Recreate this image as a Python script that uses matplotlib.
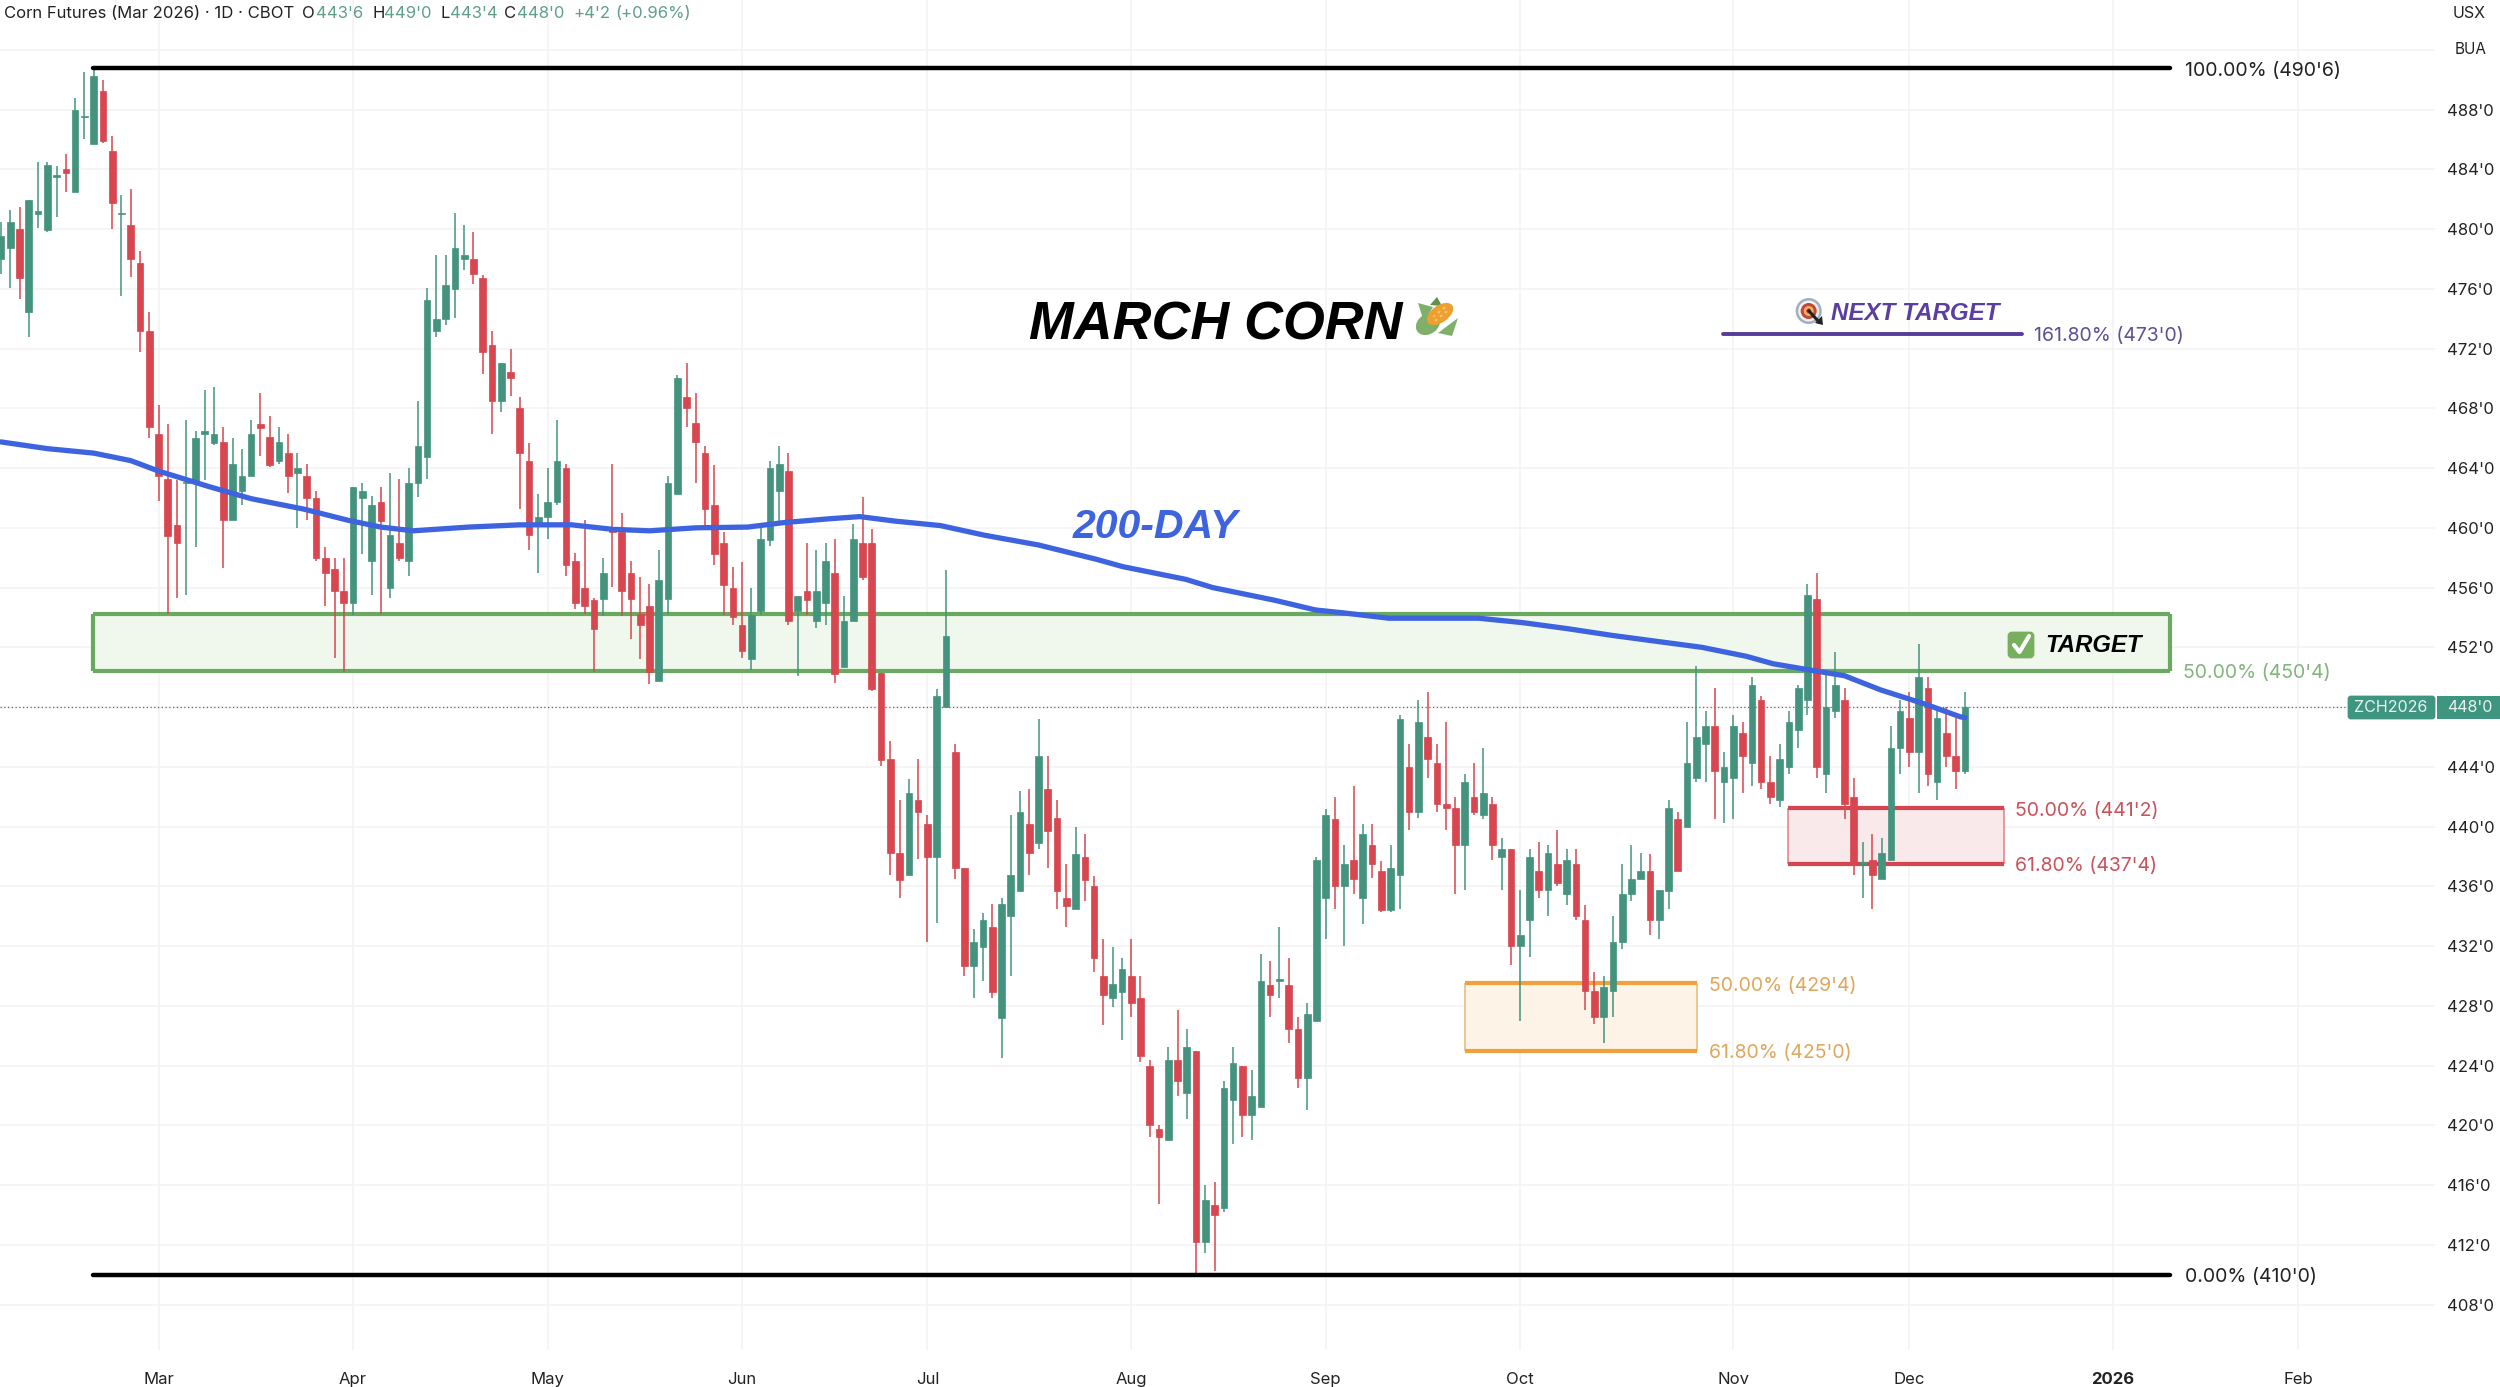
import matplotlib
matplotlib.use("Agg")
import matplotlib.pyplot as plt
from matplotlib.patches import Ellipse, FancyBboxPatch, Polygon, Rectangle

plt.rcParams['font.family'] = ['Inter', 'DejaVu Sans']

# daily candles (price in cents, 0.25 = 2/8)
opens = [
    478.0, 478.75, 480.0, 474.45, 481.0, 479.95, 483.5, 484.0, 482.5, 487.5,
    485.7, 489.25, 485.2, 481.0, 480.25, 477.75, 473.2, 466.25, 463.3, 460.2,
    463.0, 463.05, 466.25, 465.7, 465.75, 460.5, 462.45, 463.5, 466.95, 466.05,
    464.5, 465.0, 463.7, 463.5, 462.0, 458.0, 457.25, 455.75, 455.0, 462.0,
    457.75, 461.75, 456.0, 459.0, 457.75, 463.0, 464.75, 473.2, 474.0, 476.0,
    478.0, 478.0, 476.75, 472.25, 468.5, 470.45, 468.0, 464.5, 460.3, 460.75,
    461.7, 464.0, 457.75, 456.0, 455.2, 455.25, 460.0, 459.75, 457.0, 454.25,
    454.75, 449.75, 455.25, 462.25, 468.75, 467.0, 465.0, 461.5, 459.0, 456.0,
    453.5, 451.2, 454.45, 459.2, 462.45, 463.8, 454.45, 455.75, 453.75, 455.0,
    457.0, 450.7, 453.75, 459.0, 459.0, 450.25, 444.5, 438.25, 436.75, 441.75,
    440.2, 437.95, 448.0, 445.0, 437.2, 430.7, 431.95, 433.25, 427.2, 434.0,
    435.7, 440.2, 438.9, 442.5, 440.55, 435.2, 434.5, 438.0, 436.0, 430.0,
    428.5, 428.9, 430.0, 428.5, 424.0, 419.75, 419.0, 424.4, 422.2, 425.0,
    412.2, 414.7, 414.45, 421.7, 424.0, 420.7, 421.2, 429.4, 429.7, 429.4,
    426.45, 423.2, 427.0, 435.25, 440.5, 436.0, 437.75, 435.25, 438.75, 437.0,
    434.45, 436.75, 444.0, 441.0, 446.0, 444.25, 441.5, 441.25, 438.75, 442.0,
    440.75, 441.5, 438.0, 438.5, 432.0, 433.75, 437.0, 435.75, 437.5, 435.5,
    437.5, 433.75, 429.0, 427.25, 429.0, 432.25, 435.5, 436.5, 437.0, 433.75,
    435.7, 440.5, 440.0, 443.25, 445.5, 446.75, 443.0, 443.25, 446.25, 444.25,
    448.5, 443.0, 441.75, 444.0, 446.5, 448.5, 455.25, 443.5, 447.75, 448.5,
    442.0, 437.5, 437.75, 436.5, 437.75, 445.25, 447.25, 445.0, 449.25, 443.0,
    446.25, 444.75, 443.75,
]
closes = [
    479.5, 480.5, 476.75, 481.95, 481.2, 484.3, 483.6, 483.75, 488.0, 487.55,
    490.25, 485.9, 481.75, 481.05, 478.0, 473.2, 466.75, 463.5, 459.45, 459.0,
    463.05, 466.0, 466.5, 466.25, 460.5, 464.25, 463.5, 466.25, 466.7, 464.2,
    465.75, 463.5, 464.0, 462.0, 458.0, 457.0, 455.75, 455.0, 462.75, 462.45,
    461.5, 460.45, 459.55, 458.0, 463.0, 465.5, 475.25, 474.0, 476.25, 478.75,
    478.25, 477.0, 471.75, 468.5, 471.0, 470.0, 465.0, 459.55, 460.75, 461.7,
    464.5, 457.5, 455.0, 454.75, 453.25, 457.0, 459.75, 455.75, 455.25, 453.5,
    450.35, 456.5, 463.0, 470.0, 468.0, 465.75, 461.25, 458.25, 456.2, 454.0,
    451.75, 454.15, 459.25, 464.0, 464.25, 453.75, 455.45, 455.2, 455.75, 457.8,
    450.2, 453.75, 459.25, 456.7, 449.2, 444.45, 438.25, 436.4, 442.25, 440.95,
    437.95, 448.75, 452.75, 437.2, 430.7, 432.25, 433.75, 428.9, 434.8, 436.75,
    440.95, 438.25, 444.7, 439.7, 435.7, 434.7, 438.2, 436.4, 431.2, 428.7,
    429.45, 430.5, 428.2, 424.65, 420.0, 419.25, 424.4, 422.95, 425.25, 412.2,
    415.0, 414.0, 422.5, 424.2, 420.7, 422.0, 429.7, 428.75, 429.8, 426.45,
    423.2, 427.45, 437.75, 440.75, 436.0, 437.5, 436.5, 439.5, 437.5, 434.4,
    437.25, 447.2, 441.0, 447.0, 444.5, 441.5, 441.25, 438.75, 443.0, 441.0,
    442.25, 438.75, 438.5, 432.0, 432.75, 438.0, 435.75, 438.25, 436.25, 437.75,
    434.0, 429.0, 427.25, 429.25, 432.25, 435.5, 436.5, 437.0, 433.75, 435.75,
    441.25, 437.0, 444.25, 446.0, 446.75, 443.75, 444.0, 446.75, 444.75, 449.5,
    443.0, 442.0, 444.5, 447.0, 449.25, 455.5, 444.0, 448.0, 449.5, 441.5,
    437.5, 437.6, 436.75, 438.25, 445.25, 447.75, 445.0, 450.0, 443.5, 447.25,
    444.75, 443.75, 448.0,
]
highs = [
    480.5, 481.3, 481.45, 481.95, 484.5, 484.5, 484.2, 485.0, 488.75, 490.5,
    490.75, 490.0, 486.2, 482.25, 482.7, 478.5, 474.45, 468.2, 466.95, 463.2,
    467.25, 466.5, 469.25, 469.45, 466.75, 466.0, 465.3, 467.25, 469.05, 467.5,
    466.75, 466.25, 465.0, 464.25, 462.45, 458.7, 458.0, 458.0, 462.75, 463.0,
    462.15, 462.75, 463.7, 463.25, 464.0, 468.5, 476.05, 478.25, 478.25, 481.05,
    480.25, 479.8, 476.95, 473.2, 471.0, 472.0, 468.75, 465.7, 462.25, 464.0,
    467.25, 464.25, 458.3, 460.5, 455.3, 458.0, 464.25, 461.0, 457.75, 456.7,
    456.25, 458.5, 463.5, 470.25, 471.0, 469.0, 465.5, 464.2, 459.75, 457.4,
    457.7, 455.95, 460.25, 464.5, 465.5, 465.0, 455.45, 459.0, 458.5, 459.0,
    459.25, 455.45, 460.25, 462.05, 459.95, 450.25, 445.75, 441.75, 443.2, 444.5,
    440.75, 449.2, 457.2, 445.5, 437.2, 433.15, 434.25, 434.8, 435.2, 440.75,
    442.4, 442.5, 447.2, 444.7, 441.75, 437.5, 440.0, 439.5, 436.7, 432.45,
    431.95, 431.2, 432.45, 430.0, 424.4, 420.0, 425.25, 427.7, 426.45, 425.0,
    416.0, 416.2, 423.0, 425.25, 424.0, 423.7, 431.45, 431.0, 433.25, 431.2,
    427.25, 428.2, 438.0, 441.2, 442.0, 438.75, 442.75, 440.2, 440.2, 437.7,
    438.75, 447.5, 445.5, 448.5, 449.0, 445.5, 447.0, 442.0, 443.5, 444.25,
    445.25, 442.0, 439.25, 438.5, 435.75, 438.5, 439.0, 438.75, 439.75, 438.5,
    438.5, 434.75, 430.25, 430.0, 434.0, 437.5, 438.75, 438.25, 438.2, 435.75,
    441.75, 441.0, 447.0, 450.75, 447.75, 449.25, 445.0, 447.5, 447.0, 450.0,
    448.75, 444.75, 445.5, 447.75, 449.5, 456.25, 457.0, 450.2, 451.7, 449.25,
    443.25, 439.0, 439.5, 439.25, 446.75, 448.5, 449.0, 452.25, 450.0, 448.0,
    448.0, 447.25, 449.0,
]
lows = [
    477.0, 476.05, 475.3, 472.8, 480.05, 479.8, 480.8, 482.5, 482.5, 486.0,
    485.7, 485.75, 480.0, 475.55, 476.8, 471.8, 466.0, 461.8, 454.25, 455.3,
    455.5, 458.7, 463.2, 465.55, 457.3, 460.5, 461.55, 463.5, 464.8, 464.05,
    464.3, 462.3, 460.0, 460.5, 457.8, 454.8, 451.3, 450.35, 454.15, 458.25,
    455.5, 454.25, 455.3, 457.75, 456.8, 462.05, 463.3, 472.75, 473.6, 474.05,
    477.25, 476.3, 470.3, 466.3, 467.75, 468.8, 461.25, 458.5, 457.0, 459.25,
    461.55, 456.8, 454.55, 454.25, 450.35, 454.1, 456.05, 454.1, 452.55, 451.25,
    449.55, 449.75, 454.25, 462.25, 466.75, 463.0, 459.85, 457.5, 454.15, 453.5,
    451.3, 450.5, 454.15, 458.8, 460.35, 453.5, 450.05, 454.15, 453.3, 453.5,
    449.6, 450.7, 453.75, 456.5, 449.05, 444.05, 436.75, 435.25, 436.75, 437.8,
    432.25, 433.55, 448.0, 436.5, 430.0, 428.5, 429.7, 428.5, 424.5, 430.0,
    435.7, 436.75, 438.5, 437.2, 434.5, 433.25, 434.5, 435.05, 430.25, 426.75,
    427.95, 425.75, 427.25, 424.25, 419.25, 414.75, 419.0, 422.0, 420.45, 410.0,
    411.45, 410.25, 414.2, 418.75, 419.25, 419.0, 421.2, 427.25, 428.5, 425.5,
    422.5, 421.0, 427.0, 432.5, 434.5, 432.0, 435.5, 433.5, 436.55, 434.3,
    434.3, 434.5, 439.75, 440.55, 443.25, 441.0, 439.75, 435.5, 435.75, 440.75,
    440.5, 437.75, 435.75, 430.75, 427.0, 431.3, 435.25, 434.0, 436.0, 434.75,
    433.75, 427.75, 426.8, 425.5, 427.25, 431.8, 435.0, 436.5, 432.75, 432.5,
    434.5, 437.0, 440.0, 443.0, 443.0, 440.5, 440.25, 440.5, 442.25, 442.75,
    442.5, 441.5, 441.3, 443.5, 445.25, 447.5, 443.25, 442.25, 447.25, 440.5,
    436.75, 435.25, 434.5, 436.5, 437.75, 443.5, 444.0, 442.25, 442.75, 441.75,
    444.0, 442.5, 443.5,
]

# 200-day average, (bar number, price)
ma_bars = [0, 5, 10, 14, 17, 22.5, 27, 32.7, 37.5, 41, 44.5, 50.5, 56, 61.6, 66, 70, 75, 80.6,
           84.5, 89.3, 92.7, 96.5, 101.4, 106.2, 112, 118.2, 121.1, 127.9, 130.8, 137.5, 141.9,
           145, 149.8, 159.5, 164.3, 169.1, 173.9, 183.6, 188.4, 191.3, 195.1, 199, 202.9,
           207.7, 211.5, 212]
ma_vals = [465.75, 465.3, 465.0, 464.5, 463.8, 462.75, 461.95, 461.25, 460.5, 460.05, 459.8,
           460.05, 460.2, 460.2, 459.9, 459.8, 460.0, 460.05, 460.35, 460.6, 460.75, 460.45,
           460.15, 459.5, 458.85, 457.9, 457.4, 456.55, 456.0, 455.15, 454.5, 454.3, 453.95,
           453.95, 453.65, 453.25, 452.8, 452.0, 451.4, 450.9, 450.5, 450.1, 449.15, 448.2,
           447.35, 447.3]

month_bars = [17, 38, 59, 80, 100, 122, 143, 164, 187, 206, 228, 248]
month_labels = ['Mar', 'Apr', 'May', 'Jun', 'Jul', 'Aug', 'Sep', 'Oct', 'Nov', 'Dec', '2026', 'Feb']
price_ticks = list(range(408, 493, 4))

last_price = 448.0
fib_high = 490.75
fib_low = 410.0
green_zone = (450.4, 454.2)
red_zone = (437.5, 441.25)
orange_zone = (425.0, 429.5)
next_target = 473.0

GREEN = '#44937e'
RED = '#d8464f'
BLUE = '#3d63de'

W, H = 2500, 1387
fig = plt.figure(figsize=(W / 100, H / 100), dpi=100, facecolor='white')
ax = fig.add_axes([0, (H - 1350) / H, 2435 / W, 1350 / H])
ax.set_xlim(-0.11, 262.74)
ax.set_ylim(448 - (1350 - 707.1) / 14.94, 448 + 707.1 / 14.94)
for s in ax.spines.values():
    s.set_visible(False)

ax.set_xticks(month_bars)
ax.set_xticklabels(month_labels, fontsize=12, color='#222222')
ax.get_xticklabels()[10].set_fontweight('bold')
ax.yaxis.tick_right()
ax.set_yticks(price_ticks)
ax.set_yticklabels([f"{p}'0" if p != 492 else '' for p in price_ticks], fontsize=12, color='#222222')
ax.tick_params(axis='both', length=0)
ax.tick_params(axis='x', pad=16)
ax.tick_params(axis='y', pad=9)
ax.grid(True, color='#f2f3f4', lw=1.1, zorder=0)
ax.set_axisbelow(True)

ax.axhline(last_price, color='#666666', lw=0.9, ls=(0, (1, 2)), zorder=1)


def zone(x0, x1, levels, edge, fill, side_lw, side_col):
    ax.add_patch(Rectangle((x0, levels[0]), x1 - x0, levels[1] - levels[0], fc=fill, ec='none', zorder=1))
    ax.vlines([x0, x1], levels[0], levels[1], color=side_col, lw=side_lw, zorder=1.2)
    ax.hlines(levels, x0, x1, color=edge, lw=3, zorder=1.3)


zone(9.9, 234.1, green_zone, '#6aa960', '#f0f7ed', 3, '#6aa960')
zone(192.9, 216.2, red_zone, '#d6444f', '#f9e9ea', 1.2, '#e08a90')
zone(158, 183.1, orange_zone, '#f0a03c', '#fdf4e7', 1.2, '#eebb7c')

bars = list(range(len(opens)))
colors = [GREEN if c >= o else RED for o, c in zip(opens, closes)]
ax.vlines(bars, lows, highs, color=colors, lw=1.1, zorder=2)
ax.bar(bars, [abs(c - o) for o, c in zip(opens, closes)], bottom=[min(o, c) for o, c in zip(opens, closes)],
       width=0.72, color=colors, edgecolor=colors, linewidth=0.5, zorder=2.1)

ax.plot(ma_bars, ma_vals, color=BLUE, lw=3.8, zorder=3, solid_capstyle='round', solid_joinstyle='round')

for y in (fib_high, fib_low):
    ax.hlines(y, 9.9, 234.1, color='black', lw=3.2, zorder=3.5, capstyle='round')
ax.hlines(next_target, 185.9, 218.2, color='#553c9a', lw=2.8, zorder=3.5, capstyle='round')

# fib level captions, nudged down a little to sit like the reference
dy = 0.14
ax.text(235.7, fib_high - dy, "100.00% (490'6)", fontsize=14, color='#222222', va='center')
ax.text(235.7, fib_low - dy, "0.00% (410'0)", fontsize=14, color='#222222', va='center')
ax.text(219.4, next_target - dy, "161.80% (473'0)", fontsize=14, color='#5b5197', va='center')
ax.text(235.5, 450.45 - dy, "50.00% (450'4)", fontsize=14, color='#82b57c', va='center')
ax.text(217.4, 441.2 - dy, "50.00% (441'2)", fontsize=14, color='#c9525c', va='center')
ax.text(217.4, 437.5 - dy, "61.80% (437'4)", fontsize=14, color='#c9525c', va='center')
ax.text(184.4, 429.5 - dy, "50.00% (429'4)", fontsize=14, color='#dfa75c', va='center')
ax.text(184.4, 425.0 - dy, "61.80% (425'0)", fontsize=14, color='#dfa75c', va='center')

# overlay in pixels for headline texts and small icons
pix = fig.add_axes([0, 0, 1, 1], facecolor='none', zorder=5)
pix.set_xlim(0, W)
pix.set_ylim(H, 0)
pix.axis('off')

head = dict(family='Liberation Sans', weight='bold', style='italic', va='center', ha='left')
pix.text(1029, 326, 'MARCH CORN', fontsize=38.7, color='black', **head)
pix.text(1073, 527, '200-DAY', fontsize=29.5, color=BLUE, **head)
pix.text(1831, 314, 'NEXT TARGET', fontsize=17.4, color='#5a3fa0', **head)
pix.text(2045, 645, 'TARGET', fontsize=17.2, color='black', **head)

# header line, pieces placed one after the other
hdr = [(4, 'Corn Futures (Mar 2026) · 1D · CBOT', '#222222'), (302, 'O', '#222222'), (316, "443'6", '#5e9e8a'),
       (372, 'H', '#222222'), (384, "449'0", '#5e9e8a'), (440, 'L', '#222222'), (450, "443'4", '#5e9e8a'),
       (504, 'C', '#222222'), (517, "448'0", '#5e9e8a'), (573, "+4'2", '#5e9e8a'), (615, '(+0.96%)', '#5e9e8a')]
for x, t, c in hdr:
    pix.text(x, 13, t, fontsize=12, color=c, va='center')

pix.text(2486, 14, 'USX', fontsize=11.5, color='#222222', ha='right', va='center')
pix.text(2486, 49, 'BUA', fontsize=11, color='#222222', ha='right', va='center')

# last price tag
pix.add_patch(FancyBboxPatch((2349, 697), 85, 21, boxstyle='round,pad=0,rounding_size=2', fc='#3f9680', ec='#3f9680', lw=2))
pix.add_patch(Rectangle((2437, 695.5), 63, 23.5, fc='#3f9680', ec='none'))
pix.text(2391, 707.5, 'ZCH2026', fontsize=11.5, color='#e8f3f0', ha='center', va='center')
pix.text(2470, 707.5, "448'0", fontsize=11.5, color='#e8f3f0', ha='center', va='center')

# check box
pix.add_patch(FancyBboxPatch((2009, 633), 24, 24, boxstyle='round,pad=0,rounding_size=3', fc='#76b05f', ec='#76b05f', lw=2))
pix.plot([2014, 2019.5, 2029], [645, 652, 636], color='white', lw=3, solid_capstyle='round')

# target icon
for r, c in [(13, '#9fb0c0'), (10.5, '#f4f1ec'), (8, '#c4473c'), (5, '#f0b060'), (2.5, '#c4473c')]:
    pix.add_patch(Ellipse((1808.7, 311), 2 * r, 2 * r, fc=c, ec='none'))
pix.plot([1809, 1819], [311, 322], color='#222222', lw=2.2)
pix.add_patch(Polygon([[1815, 323], [1822, 316], [1823, 325]], fc='#222222', ec='none'))

# corn icon
pix.add_patch(Ellipse((1428, 324), 26, 20, angle=-35, fc='#7fb069', ec='none'))
pix.add_patch(Polygon([[1418, 303], [1433, 307], [1424, 322]], fc='#7fb069', ec='none'))
pix.add_patch(Polygon([[1430, 305], [1437, 297], [1442, 306]], fc='#5f9148', ec='none'))
pix.add_patch(Polygon([[1438, 333], [1458, 318], [1452, 336]], fc='#7fb069', ec='none'))
pix.add_patch(Ellipse((1440, 314), 30, 17, angle=-35, fc='#ee9f32', ec='none'))
for dx, dy in [(-6, 2), (-1, -2), (4, -6), (-4, 6), (1, 2), (6, -2)]:
    pix.add_patch(Ellipse((1440 + dx, 314 + dy), 3, 2.4, angle=-35, fc='#f6c85f', ec='none'))

fig.savefig('out.png', dpi=100, facecolor='white')
